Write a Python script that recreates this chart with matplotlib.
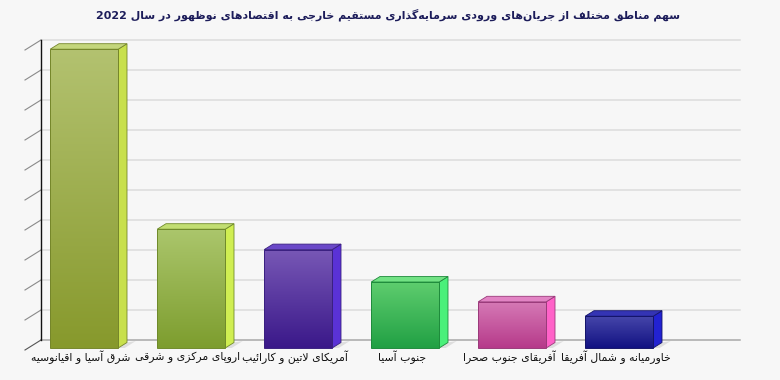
import re
import matplotlib
matplotlib.use("Agg")
import matplotlib.pyplot as plt
import numpy as np
from matplotlib.patches import Polygon
from matplotlib.colors import LinearSegmentedColormap

# ---------------- data ----------------
title = "سهم مناطق مختلف از جریان‌های ورودی سرمایه‌گذاری مستقیم خارجی به اقتصادهای نوظهور در سال 2022"
categories = [
    "شرق آسیا و اقیانوسیه",
    "اروپای مرکزی و شرقی",
    "آمریکای لاتین و کارائیب",
    "جنوب آسیا",
    "آفریقای جنوب صحرا",
    "خاورمیانه و شمال آفریقا",
]
values = [49.8, 19.8, 16.4, 11.0, 7.7, 5.3]
grid_values = [0, 5, 10, 15, 20, 25, 30, 35, 40, 45, 50]

front_top_colors = ["#b3c270", "#abc66c", "#7858b6", "#5ecd6e", "#d67ab6", "#4646aa"]
front_bottom_colors = ["#87992c", "#7d9d2e", "#3a1889", "#21a044", "#b63a8a", "#121282"]
top_face_colors = ["#c4d67c", "#c2de72", "#6a48c8", "#72e284", "#e284c4", "#3434b4"]
side_colors = ["#c8e04c", "#d0ee52", "#5a32d6", "#4af07a", "#ff62c8", "#2222d2"]
edge_colors = ["#75862a", "#6f8a2a", "#3a2080", "#1f8a3c", "#9a3a7a", "#14146a"]

# ---------------- Persian shaping helpers ----------------
FORMS = {
    "\u0627": ("\uFE8D", "\uFE8E", None, None),
    "\u0622": ("\uFE81", "\uFE82", None, None),
    "\u0628": ("\uFE8F", "\uFE90", "\uFE91", "\uFE92"),
    "\u067E": ("\uFB56", "\uFB57", "\uFB58", "\uFB59"),
    "\u062A": ("\uFE95", "\uFE96", "\uFE97", "\uFE98"),
    "\u062B": ("\uFE99", "\uFE9A", "\uFE9B", "\uFE9C"),
    "\u062C": ("\uFE9D", "\uFE9E", "\uFE9F", "\uFEA0"),
    "\u0686": ("\uFB7A", "\uFB7B", "\uFB7C", "\uFB7D"),
    "\u062D": ("\uFEA1", "\uFEA2", "\uFEA3", "\uFEA4"),
    "\u062E": ("\uFEA5", "\uFEA6", "\uFEA7", "\uFEA8"),
    "\u062F": ("\uFEA9", "\uFEAA", None, None),
    "\u0630": ("\uFEAB", "\uFEAC", None, None),
    "\u0631": ("\uFEAD", "\uFEAE", None, None),
    "\u0632": ("\uFEAF", "\uFEB0", None, None),
    "\u0698": ("\uFB8A", "\uFB8B", None, None),
    "\u0633": ("\uFEB1", "\uFEB2", "\uFEB3", "\uFEB4"),
    "\u0634": ("\uFEB5", "\uFEB6", "\uFEB7", "\uFEB8"),
    "\u0635": ("\uFEB9", "\uFEBA", "\uFEBB", "\uFEBC"),
    "\u0636": ("\uFEBD", "\uFEBE", "\uFEBF", "\uFEC0"),
    "\u0637": ("\uFEC1", "\uFEC2", "\uFEC3", "\uFEC4"),
    "\u0638": ("\uFEC5", "\uFEC6", "\uFEC7", "\uFEC8"),
    "\u0639": ("\uFEC9", "\uFECA", "\uFECB", "\uFECC"),
    "\u063A": ("\uFECD", "\uFECE", "\uFECF", "\uFED0"),
    "\u0641": ("\uFED1", "\uFED2", "\uFED3", "\uFED4"),
    "\u0642": ("\uFED5", "\uFED6", "\uFED7", "\uFED8"),
    "\u06A9": ("\uFB8E", "\uFB8F", "\uFB90", "\uFB91"),
    "\u06AF": ("\uFB92", "\uFB93", "\uFB94", "\uFB95"),
    "\u0644": ("\uFEDD", "\uFEDE", "\uFEDF", "\uFEE0"),
    "\u0645": ("\uFEE1", "\uFEE2", "\uFEE3", "\uFEE4"),
    "\u0646": ("\uFEE5", "\uFEE6", "\uFEE7", "\uFEE8"),
    "\u0647": ("\uFEE9", "\uFEEA", "\uFEEB", "\uFEEC"),
    "\u0648": ("\uFEED", "\uFEEE", None, None),
    "\u06CC": ("\uFBFC", "\uFBFD", "\uFBFE", "\uFBFF"),
    "\u0626": ("\uFE89", "\uFE8A", "\uFE8B", "\uFE8C"),
}
DUAL = {c for c, f in FORMS.items() if f[2] is not None}
LAM_ALEF = {"\u0627": ("\uFEFB", "\uFEFC"), "\u0622": ("\uFEF5", "\uFEF6")}


def shape_fa(s):
    out = []
    i, n = 0, len(s)
    while i < n:
        c = s[i]
        if c == "\u200c":
            i += 1
            continue
        if c not in FORMS:
            out.append(c)
            i += 1
            continue
        prev = s[i - 1] if i > 0 else None
        jp = prev in DUAL
        if c == "\u0644" and i + 1 < n and s[i + 1] in LAM_ALEF:
            iso, fin = LAM_ALEF[s[i + 1]]
            out.append(fin if jp else iso)
            i += 2
            continue
        nxt = s[i + 1] if i + 1 < n else None
        jn = c in DUAL and nxt in FORMS
        iso, fin, ini, med = FORMS[c]
        if jp and jn:
            out.append(med)
        elif jp:
            out.append(fin)
        elif jn:
            out.append(ini)
        else:
            out.append(iso)
        i += 1
    vis = "".join(out)[::-1]
    vis = re.sub(r"[0-9]+", lambda m: m.group(0)[::-1], vis)
    return vis


# ---------------- figure ----------------
W, H = 780, 380
fig = plt.figure(figsize=(W / 100, H / 100), dpi=100)
bg = "#f7f7f7"
fig.patch.set_facecolor(bg)
ax = fig.add_axes([0, 0, 1, 1])
ax.set_facecolor(bg)
ax.axis("off")

px_x = 107.0   # px per category unit
px_y = 6.0     # px per value unit
x0_px = 81.0   # pixel of first category centre
y0_px = 350.0  # pixel (from top) of front floor
ax.set_xlim(-x0_px / px_x, (W - x0_px) / px_x)
ax.set_ylim(-(H - y0_px) / px_y, y0_px / px_y)

DX = 16.0 / px_x   # depth offset (full depth)
DY = 10.0 / px_y


def P(x, v, d):
    return (x + d * DX, v + d * DY)


x_front_left = (25.0 - x0_px) / px_x
x_back_right = (740.0 - x0_px) / px_x - DX

# back wall gridlines
for g in grid_values:
    a = P(x_front_left, g, 1)
    b = P(x_back_right, g, 1)
    col = "#a8a8a8" if g == 0 else "#dcdcdc"
    ax.plot([a[0], b[0]], [a[1], b[1]], color=col, lw=1.1, zorder=1)
    # diagonal ticks on the left side wall
    f = P(x_front_left, g, 0)
    ax.plot([f[0], a[0]], [f[1], a[1]], color="#555555" if g == 0 else "#8a8a8a",
            lw=0.8, zorder=2)

# vertical axis line at the back left
a = P(x_front_left, grid_values[0], 1)
b = P(x_front_left, grid_values[-1], 1)
ax.plot([a[0], b[0]], [a[1], b[1]], color="#111111", lw=1.0, zorder=2)

# bars
bw = 68.0 / px_x
df, db = 0.2, 0.75
for i, v in enumerate(values):
    xl, xr = i - bw / 2, i + bw / 2
    # shadow on floor
    sh = Polygon([P(xr, 0, df), P(xr + 0.06, 0, df), P(xr + 0.06, 0, db + 0.15),
                  P(xr, 0, db)], closed=True, facecolor="#dedede", edgecolor="none",
                 zorder=3)
    ax.add_patch(sh)
    # side face
    side = Polygon([P(xr, 0, df), P(xr, 0, db), P(xr, v, db), P(xr, v, df)],
                   closed=True, facecolor=side_colors[i], edgecolor=edge_colors[i],
                   lw=0.6, zorder=4)
    ax.add_patch(side)
    # top face
    top = Polygon([P(xl, v, df), P(xr, v, df), P(xr, v, db), P(xl, v, db)],
                  closed=True, facecolor=top_face_colors[i], edgecolor=edge_colors[i],
                  lw=0.6, zorder=4)
    ax.add_patch(top)
    # front face with vertical gradient
    fl, fb_ = P(xl, 0, df)
    fr, ft = P(xr, v, df)
    front = Polygon([(fl, fb_), (fr, fb_), (fr, ft), (fl, ft)], closed=True,
                    facecolor="none", edgecolor=edge_colors[i], lw=0.7, zorder=6)
    ax.add_patch(front)
    cmap = LinearSegmentedColormap.from_list(
        "g%d" % i, [front_bottom_colors[i], front_top_colors[i]])
    grad = np.linspace(0, 1, 256).reshape(-1, 1)
    im = ax.imshow(grad, cmap=cmap, origin="lower", aspect="auto",
                   extent=[fl, fr, fb_, ft], zorder=5, interpolation="bilinear")
    im.set_clip_path(front)
    # category label
    ax.text(i, -(357 - y0_px) / px_y, shape_fa(categories[i]), ha="center",
            va="center", fontsize=7.8, color="#111111", family="DejaVu Sans",
            zorder=7)

ax.set_xlim(-x0_px / px_x, (W - x0_px) / px_x)
ax.set_ylim(-(H - y0_px) / px_y, y0_px / px_y)

fig.text(388 / W, 1 - 15 / H, shape_fa(title), ha="center", va="center",
         fontsize=7.9, fontweight="bold", color="#1c1c5a", family="DejaVu Sans")

fig.savefig("out.png", dpi=100, facecolor=bg)
